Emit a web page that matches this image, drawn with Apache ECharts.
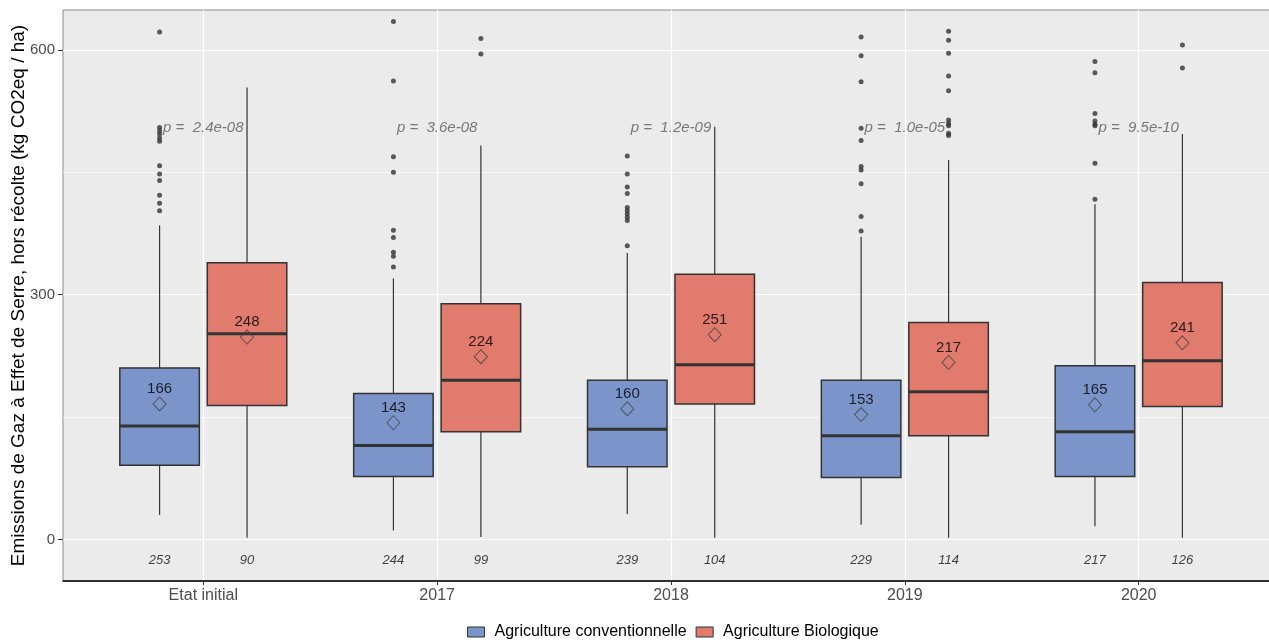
<!DOCTYPE html>
<html>
<head>
<meta charset="utf-8">
<title>Emissions GES</title>
<script src="https://cdn.jsdelivr.net/npm/echarts@6/dist/echarts.min.js"></script>
<style>
  html, body { margin: 0; padding: 0; background: #fff; }
  #chart { width: 1269px; height: 644px; }
</style>
</head>
<body>
<div id="chart"></div>
<script>
// categories
var categories = ['Etat initial', '2017', '2018', '2019', '2020'];

// [whisker low, q1, median, q3, whisker high]
var convStats = [
  [30, 91, 139, 210, 385],
  [11, 77, 115, 179, 320],
  [31, 89, 135, 195, 351],
  [18, 76, 127, 195, 371],
  [16, 77, 132, 213, 411]
];
var bioStats = [
  [2, 164, 252, 339, 554],
  [3, 132, 195, 289, 483],
  [2, 166, 214, 325, 506],
  [2, 127, 181, 266, 465],
  [2, 163, 219, 315, 497]
];

var convMeans = [166, 143, 160, 153, 165];
var bioMeans = [248, 224, 251, 217, 241];
var convN = [253, 244, 239, 229, 217];
var bioN = [90, 99, 104, 114, 126];
var pValues = ['2.4e-08', '3.6e-08', '1.2e-09', '1.0e-05', '9.5e-10'];

// outliers per category
var convOutliers = [
  [622, 505, 501, 497, 492, 488, 458, 448, 440, 422, 412, 403],
  [635, 562, 469, 450, 379, 370, 352, 347, 334],
  [470, 448, 432, 424, 407, 403, 399, 395, 391, 360],
  [616, 593, 561, 504, 489, 457, 453, 436, 396, 378],
  [586, 572, 522, 513, 509, 507, 461, 417]
];
var bioOutliers = [
  [],
  [614, 595],
  [],
  [623, 612, 596, 568, 550, 514, 510, 507, 498, 495],
  [606, 578]
];

var BLUE = '#7b95cb';
var RED = '#e07b6d';
var DODGE = 0.187;
var BOX_W = 0.34;
var FONT = 'Liberation Sans, Arial, sans-serif';

function boxData(stats, off) {
  return stats.map(function (s, i) { return [i + 1 + off].concat(s); });
}
function outlierData(list, off) {
  var out = [];
  list.forEach(function (vals, i) {
    vals.forEach(function (v) { out.push([i + 1 + off, v]); });
  });
  return out;
}
function meanData(means, off) {
  return means.map(function (m, i) { return [i + 1 + off, m]; });
}
function nData(ns, off) {
  return ns.map(function (n, i) { return { value: [i + 1 + off, -26], n: n }; });
}

function makeRender(fill) {
  return function (params, api) {
    var x = api.value(0);
    var lo = api.coord([x, api.value(1)]);
    var q1 = api.coord([x, api.value(2)]);
    var md = api.coord([x, api.value(3)]);
    var q3 = api.coord([x, api.value(4)]);
    var hi = api.coord([x, api.value(5)]);
    var hw = api.size([BOX_W, 0])[0] / 2;
    var ln = { stroke: '#333', lineWidth: 1.2 };
    return {
      type: 'group',
      children: [
        { type: 'line', shape: { x1: lo[0], y1: lo[1], x2: lo[0], y2: q1[1] }, style: ln },
        { type: 'line', shape: { x1: hi[0], y1: hi[1], x2: hi[0], y2: q3[1] }, style: ln },
        { type: 'rect', shape: { x: q3[0] - hw, y: q3[1], width: hw * 2, height: q1[1] - q3[1] },
          style: { fill: fill, stroke: '#333', lineWidth: 1.5 } },
        { type: 'line', shape: { x1: md[0] - hw, y1: md[1], x2: md[0] + hw, y2: md[1] },
          style: { stroke: '#333', lineWidth: 3 } }
      ]
    };
  };
}

var chart = echarts.init(document.getElementById('chart'));

chart.setOption({
  animation: false,
  textStyle: { fontFamily: FONT },
  grid: {
    left: 63, right: -10, top: 10, bottom: 63,
    outerBoundsMode: 'none',
    containLabel: false,
    show: true, backgroundColor: '#ebebeb', borderColor: '#8c8c8c', borderWidth: 1
  },
  legend: {
    top: 624,
    left: 467,
    padding: 0,
    data: ['Agriculture conventionnelle', 'Agriculture Biologique'],
    icon: 'rect',
    itemWidth: 17,
    itemHeight: 10,
    itemGap: 9,
    itemStyle: { borderColor: '#333', borderWidth: 1 },
    textStyle: { fontSize: 16, color: '#000', fontFamily: FONT, padding: [0, 0, 0, 5] }
  },
  xAxis: {
    type: 'value',
    min: 0.4,
    max: 5.6,
    axisLine: { show: true, onZero: false, lineStyle: { color: '#000', width: 1.5 } },
    axisTick: { show: true, customValues: [1, 2, 3, 4, 5], length: 4, lineStyle: { color: '#333' } },
    axisLabel: {
      customValues: [1, 2, 3, 4, 5],
      formatter: function (v) { return categories[Math.round(v) - 1]; },
      color: '#4d4d4d', fontSize: 16, margin: 7
    },
    splitLine: { show: true, lineStyle: { color: '#fff', width: 1.2 } }
  },
  yAxis: {
    type: 'value',
    min: -51,
    max: 649,
    name: 'Emissions de Gaz à Effet de Serre, hors récolte (kg CO2eq / ha)',
    nameLocation: 'middle',
    nameRotate: 90,
    nameGap: 35,
    nameMoveOverlap: false,
    nameTextStyle: { fontSize: 19, color: '#000' },
    axisLine: { show: false },
    axisTick: { show: true, customValues: [0, 300, 600], length: 5, lineStyle: { color: '#333' } },
    axisLabel: { customValues: [0, 300, 600], color: '#4d4d4d', fontSize: 15, margin: 8 },
    splitLine: { show: true, lineStyle: { color: '#fff', width: 1.2 } }
  },
  series: [
    {
      name: 'Agriculture conventionnelle',
      type: 'custom',
      renderItem: makeRender(BLUE),
      itemStyle: { color: BLUE, borderColor: '#333' },
      encode: { x: 0, y: [1, 2, 3, 4, 5] },
      data: boxData(convStats, -DODGE),
      z: 3
    },
    {
      name: 'Agriculture Biologique',
      type: 'custom',
      renderItem: makeRender(RED),
      itemStyle: { color: RED, borderColor: '#333' },
      encode: { x: 0, y: [1, 2, 3, 4, 5] },
      data: boxData(bioStats, DODGE),
      z: 3
    },
    {
      name: 'outliers',
      type: 'scatter',
      symbol: 'circle',
      symbolSize: 5,
      itemStyle: { color: '#333' },
      data: outlierData(convOutliers, -DODGE).concat(outlierData(bioOutliers, DODGE)),
      z: 4
    },
    {
      name: 'means',
      type: 'scatter',
      symbol: 'diamond',
      symbolSize: [13, 14],
      itemStyle: { color: 'rgba(0,0,0,0)', borderColor: '#444', borderWidth: 1 },
      label: {
        show: true, position: 'top', distance: 0,
        formatter: function (p) { return Math.round(p.value[1]); },
        color: '#000', fontSize: 15
      },
      data: meanData(convMeans, -DODGE).concat(meanData(bioMeans, DODGE)),
      z: 5
    },
    {
      name: 'n',
      type: 'scatter',
      symbolSize: 0,
      label: {
        show: true, position: 'inside',
        formatter: function (p) { return p.data.n; },
        color: '#111', fontSize: 13, fontStyle: 'italic'
      },
      data: nData(convN, -DODGE).concat(nData(bioN, DODGE)),
      z: 5
    },
    {
      name: 'pval',
      type: 'scatter',
      symbolSize: 0,
      label: {
        show: true, position: 'inside',
        formatter: function (p) { return 'p =  ' + pValues[p.dataIndex]; },
        color: '#5a5a5a', fontSize: 15, fontStyle: 'italic'
      },
      data: categories.map(function (c, i) { return [i + 1, 505]; }),
      markLine: {
        silent: true,
        symbol: 'none',
        label: { show: false },
        lineStyle: { color: '#fff', width: 0.6, type: 'solid' },
        data: [{ yAxis: 150 }, { yAxis: 450 }],
        z: 1
      },
      z: 6
    }
  ]
});
</script>
</body>
</html>
